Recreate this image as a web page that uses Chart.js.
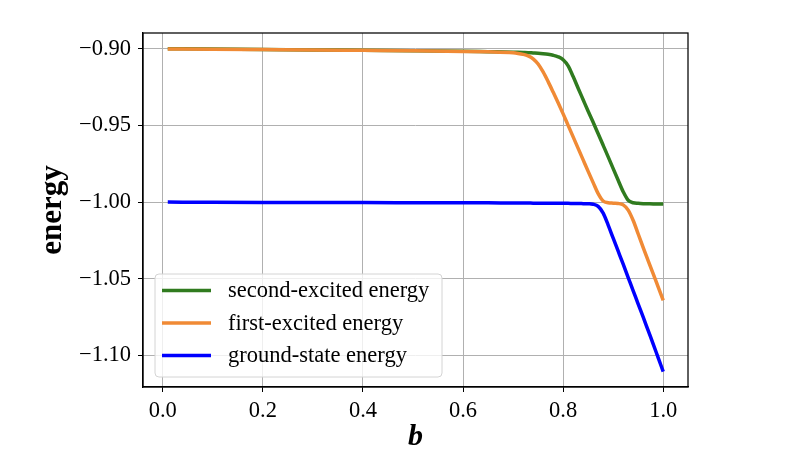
<!DOCTYPE html>
<html>
<head>
<meta charset="utf-8">
<script src="https://cdn.jsdelivr.net/npm/chart.js@4.4.0/dist/chart.umd.min.js"></script>
<style>
  body { margin: 0; background: #fff; }
</style>
</head>
<body>
<canvas id="energyChart" width="799" height="473"></canvas>
<script>
// b values (denser sampling where the levels bend)
const bValues = [0.01, 0.1, 0.2, 0.3, 0.4, 0.5, 0.6, 0.65,
  0.70, 0.71, 0.72, 0.73, 0.74, 0.75, 0.76, 0.77, 0.78, 0.79,
  0.80, 0.81, 0.82, 0.83, 0.84, 0.85, 0.86, 0.87, 0.88, 0.89,
  0.90, 0.91, 0.92, 0.93, 0.94, 0.95, 0.96, 0.97, 0.98, 0.99, 1.00];

const secondExcited = [-0.9000, -0.9003, -0.9005, -0.9008, -0.9010, -0.9013, -0.9017, -0.9020,
  -0.9023, -0.9024, -0.9025, -0.9026, -0.9028, -0.9030, -0.9033, -0.9037, -0.9043, -0.9053,
  -0.9072, -0.9112, -0.9182, -0.9258, -0.9333, -0.9408, -0.9480, -0.9555, -0.9630, -0.9705,
  -0.9782, -0.9858, -0.9932, -0.9988, -1.0004, -1.0008, -1.0010, -1.0011, -1.0012, -1.0012, -1.0013];

const firstExcited = [-0.9002, -0.9004, -0.9006, -0.9008, -0.9011, -0.9014, -0.9018, -0.9021,
  -0.9027, -0.9031, -0.9037, -0.9047, -0.9066, -0.9100, -0.9152, -0.9215, -0.9283, -0.9353,
  -0.9425, -0.9500, -0.9575, -0.9650, -0.9725, -0.9800, -0.9873, -0.9945, -0.9993, -1.0004,
  -1.0007, -1.0009, -1.0018, -1.0052, -1.0120, -1.0208, -1.0297, -1.0383, -1.0468, -1.0554, -1.0640];

const groundState = [-1.0000, -1.0001, -1.0002, -1.0003, -1.0003, -1.0004, -1.0005, -1.0005,
  -1.0006, -1.0006, -1.0006, -1.0006, -1.0007, -1.0007, -1.0007, -1.0007, -1.0008, -1.0008,
  -1.0008, -1.0008, -1.0009, -1.0009, -1.0010, -1.0011, -1.0014, -1.0028, -1.0072, -1.0150,
  -1.0235, -1.0320, -1.0405, -1.0492, -1.0578, -1.0665, -1.0750, -1.0838, -1.0925, -1.1015, -1.1105];

const seriesLabels = ["second-excited energy", "first-excited energy", "ground-state energy"];
const xTicks = [0.0, 0.2, 0.4, 0.6, 0.8, 1.0];
const yTicks = [-1.10, -1.05, -1.00, -0.95, -0.90];

const serif = '"Liberation Serif", "DejaVu Serif", serif';
Chart.defaults.font.family = serif;
Chart.defaults.color = "#000";

const toPoints = (ys) => bValues.map((b, i) => ({ x: b, y: ys[i] }));

// matplotlib-style frame + legend box inside the axes
const frameAndLegend = {
  id: "frameAndLegend",
  afterDatasetsDraw(chart) {
    const { ctx, chartArea: a } = chart;
    ctx.save();
    ctx.strokeStyle = "#000";
    ctx.lineWidth = 1.25;
    ctx.strokeRect(a.left, a.top, a.right - a.left, a.bottom - a.top);

    const x0 = a.left + 12, y0 = a.bottom - 113, w = 287, h = 103, r = 4;
    ctx.beginPath();
    ctx.moveTo(x0 + r, y0);
    ctx.arcTo(x0 + w, y0, x0 + w, y0 + h, r);
    ctx.arcTo(x0 + w, y0 + h, x0, y0 + h, r);
    ctx.arcTo(x0, y0 + h, x0, y0, r);
    ctx.arcTo(x0, y0, x0 + w, y0, r);
    ctx.closePath();
    ctx.fillStyle = "rgba(255,255,255,0.8)";
    ctx.fill();
    ctx.strokeStyle = "#d4d4d4";
    ctx.lineWidth = 1;
    ctx.stroke();

    ctx.font = "22.5px " + serif;
    ctx.textBaseline = "middle";
    chart.data.datasets.forEach((ds, i) => {
      const y = y0 + 16.5 + i * 32.5;
      ctx.strokeStyle = ds.borderColor;
      ctx.lineWidth = 3.5;
      ctx.beginPath();
      ctx.moveTo(x0 + 7, y);
      ctx.lineTo(x0 + 56, y);
      ctx.stroke();
      ctx.fillStyle = "#000";
      ctx.fillText(ds.label, x0 + 73, y + 1);
    });
    ctx.restore();
  }
};

const ctx = document.getElementById("energyChart").getContext("2d");

new Chart(ctx, {
  type: "line",
  data: {
    datasets: [
      {
        label: seriesLabels[0],
        data: toPoints(secondExcited),
        borderColor: "#307b1f",
        order: 3,
      },
      {
        label: seriesLabels[1],
        data: toPoints(firstExcited),
        borderColor: "#f08a35",
        order: 2,
      },
      {
        label: seriesLabels[2],
        data: toPoints(groundState),
        borderColor: "#0000ff",
        order: 1,
      },
    ],
  },
  options: {
    responsive: false,
    animation: false,
    events: [],
    elements: {
      point: { radius: 0 },
      line: { borderWidth: 3.5, cubicInterpolationMode: "monotone", fill: false },
    },
    layout: { padding: { left: 0, right: 111, top: 33, bottom: 0 } },
    plugins: {
      legend: { display: false },
      tooltip: { enabled: false },
    },
    scales: {
      x: {
        type: "linear",
        min: -0.0395,
        max: 1.0495,
        afterBuildTicks: (s) => { s.ticks = xTicks.map((v) => ({ value: v })); },
        afterFit: (s) => { s.height = 86; },
        ticks: {
          autoSkip: false,
          maxRotation: 0,
          padding: 6,
          font: { size: 22.5 },
          callback: (v) => v.toFixed(1),
        },
        grid: { color: "#b0b0b0", lineWidth: 1, tickColor: "#000", tickLength: 5 },
        border: { color: "#000", width: 1.25 },
        title: {
          display: true,
          text: "b",
          font: { size: 30, weight: "bold", style: "italic" },
          padding: { top: 0, bottom: 18 },
        },
      },
      y: {
        min: -1.1205,
        max: -0.8898,
        afterBuildTicks: (s) => { s.ticks = yTicks.map((v) => ({ value: v })); },
        afterFit: (s) => { s.width = 143; },
        ticks: {
          autoSkip: false,
          padding: 7,
          font: { size: 22.5 },
          callback: (v) => (v < 0 ? "\u2212" : "") + Math.abs(v).toFixed(2),
        },
        grid: { color: "#b0b0b0", lineWidth: 1, tickColor: "#000", tickLength: 5 },
        border: { color: "#000", width: 1.25 },
        title: {
          display: true,
          text: "energy",
          font: { size: 31, weight: "bold" },
          padding: { top: 34, bottom: 0 },
        },
      },
    },
  },
  plugins: [frameAndLegend],
});
</script>
</body>
</html>
